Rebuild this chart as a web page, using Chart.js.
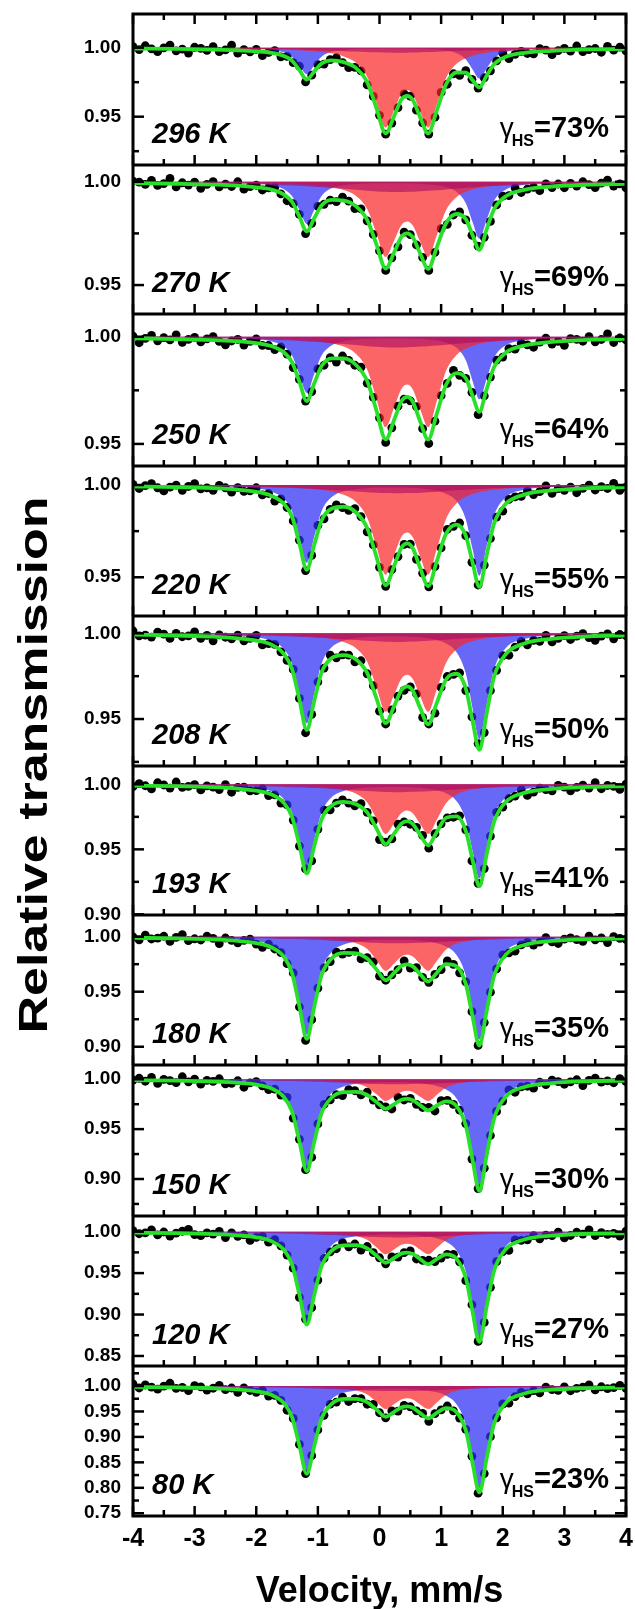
<!DOCTYPE html>
<html>
<head>
<meta charset="utf-8">
<title>Mössbauer spectra</title>
<script src="https://cdn.jsdelivr.net/npm/chart.js@4.4.1/dist/chart.umd.min.js"></script>
<style>
  html, body { margin: 0; padding: 0; background: #fff; }
  canvas { display: block; }
</style>
</head>
<body>
<canvas id="spectra" width="635" height="1609"></canvas>
<script>
// ten spectra, top panel first
const temps = ['296 K', '270 K', '250 K', '220 K', '208 K', '193 K', '180 K', '150 K', '120 K', '80 K'];
const hsFraction = [73, 69, 64, 55, 50, 41, 35, 30, 27, 23];

// measured channels, mm/s
const dotVel = [-4.0, -3.9, -3.8, -3.7, -3.6, -3.5, -3.4, -3.3, -3.2, -3.1, -3.0, -2.9, -2.8, -2.7, -2.6, -2.5, -2.4, -2.3, -2.2, -2.1,
  -2.0, -1.9, -1.8, -1.7, -1.6, -1.5, -1.4, -1.3, -1.2, -1.1, -1.0, -0.9, -0.8, -0.7, -0.6, -0.5, -0.4, -0.3, -0.2, -0.1,
  0.0, 0.1, 0.2, 0.3, 0.4, 0.5, 0.6, 0.7, 0.8, 0.9, 1.0, 1.1, 1.2, 1.3, 1.4, 1.5, 1.6, 1.7, 1.8, 1.9,
  2.0, 2.1, 2.2, 2.3, 2.4, 2.5, 2.6, 2.7, 2.8, 2.9, 3.0, 3.1, 3.2, 3.3, 3.4, 3.5, 3.6, 3.7, 3.8, 3.9, 4.0];

// measured relative transmission per panel
const dots = [
  [1.0007, 0.9986, 1.0014, 0.9992, 0.9971, 0.9998, 1.0019, 0.9977, 0.9990, 0.9961, 1.0003, 0.9995, 0.9980, 1.0007, 0.9971, 0.9984, 1.0018, 0.9960, 0.9986, 0.9970,
   0.9988, 0.9942, 0.9965, 0.9979, 0.9934, 0.9937, 0.9891, 0.9866, 0.9752, 0.9801, 0.9877, 0.9881, 0.9913, 0.9927, 0.9892, 0.9855, 0.9858, 0.9832, 0.9730, 0.9647,
   0.9510, 0.9373, 0.9454, 0.9565, 0.9666, 0.9648, 0.9547, 0.9455, 0.9374, 0.9496, 0.9676, 0.9735, 0.9811, 0.9799, 0.9833, 0.9771, 0.9707, 0.9782, 0.9832, 0.9904,
   0.9960, 0.9920, 0.9952, 0.9973, 0.9958, 0.9955, 0.9993, 0.9982, 0.9949, 0.9979, 0.9995, 0.9975, 1.0012, 0.9971, 0.9986, 0.9994, 0.9967, 1.0009, 0.9982, 1.0004, 0.9976],
  [1.0003, 0.9998, 0.9987, 1.0007, 0.9982, 0.9991, 1.0016, 0.9975, 0.9995, 0.9984, 0.9998, 0.9968, 0.9987, 1.0001, 0.9975, 0.9988, 0.9977, 1.0000, 0.9964, 0.9976,
   0.9983, 0.9960, 0.9970, 0.9972, 0.9941, 0.9908, 0.9894, 0.9842, 0.9749, 0.9799, 0.9881, 0.9891, 0.9911, 0.9904, 0.9926, 0.9906, 0.9870, 0.9869, 0.9811, 0.9745,
   0.9665, 0.9571, 0.9632, 0.9685, 0.9756, 0.9744, 0.9694, 0.9634, 0.9571, 0.9658, 0.9773, 0.9794, 0.9839, 0.9854, 0.9815, 0.9741, 0.9688, 0.9731, 0.9808, 0.9888,
   0.9930, 0.9933, 0.9970, 0.9948, 0.9964, 0.9973, 0.9957, 0.9990, 0.9972, 0.9989, 0.9971, 0.9992, 0.9979, 1.0000, 0.9986, 0.9972, 0.9993, 1.0008, 0.9979, 0.9990, 0.9970],
  [1.0003, 0.9972, 0.9992, 1.0006, 0.9981, 0.9996, 0.9985, 1.0009, 0.9974, 0.9988, 0.9997, 0.9976, 0.9990, 1.0000, 0.9978, 0.9962, 0.9980, 0.9988, 0.9961, 0.9978,
   0.9990, 0.9960, 0.9959, 0.9940, 0.9952, 0.9919, 0.9856, 0.9801, 0.9700, 0.9744, 0.9850, 0.9867, 0.9902, 0.9882, 0.9910, 0.9890, 0.9867, 0.9858, 0.9783, 0.9717,
   0.9621, 0.9507, 0.9575, 0.9676, 0.9709, 0.9701, 0.9674, 0.9571, 0.9502, 0.9606, 0.9725, 0.9782, 0.9843, 0.9820, 0.9806, 0.9740, 0.9637, 0.9724, 0.9812, 0.9891,
   0.9905, 0.9944, 0.9942, 0.9970, 0.9962, 0.9951, 0.9975, 0.9993, 0.9966, 0.9978, 0.9960, 0.9991, 0.9988, 0.9979, 1.0000, 0.9976, 0.9987, 1.0013, 0.9973, 0.9994, 0.9985],
  [1.0003, 0.9981, 0.9997, 1.0007, 0.9985, 0.9968, 0.9989, 0.9999, 0.9971, 0.9992, 1.0008, 0.9979, 0.9984, 0.9971, 0.9998, 0.9985, 0.9961, 0.9986, 0.9966, 0.9968,
   0.9985, 0.9946, 0.9954, 0.9913, 0.9925, 0.9878, 0.9805, 0.9701, 0.9536, 0.9618, 0.9781, 0.9816, 0.9868, 0.9892, 0.9877, 0.9863, 0.9872, 0.9829, 0.9746, 0.9675,
   0.9553, 0.9451, 0.9541, 0.9612, 0.9678, 0.9680, 0.9597, 0.9522, 0.9448, 0.9558, 0.9659, 0.9759, 0.9776, 0.9794, 0.9725, 0.9581, 0.9458, 0.9566, 0.9710, 0.9826,
   0.9858, 0.9922, 0.9936, 0.9938, 0.9968, 0.9948, 0.9964, 0.9995, 0.9955, 0.9980, 0.9971, 0.9989, 0.9958, 0.9982, 0.9999, 0.9973, 0.9991, 0.9981, 1.0009, 0.9971, 0.9989],
  [1.0015, 0.9985, 0.9990, 0.9978, 1.0007, 0.9995, 0.9970, 0.9999, 0.9980, 0.9985, 1.0008, 0.9971, 0.9988, 0.9956, 0.9991, 0.9977, 0.9968, 0.9989, 0.9956, 0.9970,
   0.9988, 0.9932, 0.9940, 0.9936, 0.9892, 0.9842, 0.9789, 0.9620, 0.9420, 0.9527, 0.9716, 0.9797, 0.9873, 0.9857, 0.9874, 0.9873, 0.9834, 0.9840, 0.9764, 0.9694,
   0.9546, 0.9471, 0.9553, 0.9634, 0.9667, 0.9687, 0.9647, 0.9509, 0.9471, 0.9534, 0.9684, 0.9748, 0.9761, 0.9769, 0.9666, 0.9512, 0.9357, 0.9421, 0.9666, 0.9784,
   0.9870, 0.9872, 0.9919, 0.9953, 0.9933, 0.9959, 0.9953, 0.9988, 0.9950, 0.9971, 0.9986, 0.9964, 0.9984, 0.9998, 0.9975, 0.9959, 0.9984, 0.9997, 0.9968, 0.9993, 0.9987],
  [0.9982, 1.0006, 0.9989, 0.9965, 1.0012, 0.9995, 0.9971, 1.0018, 0.9977, 0.9984, 0.9998, 0.9957, 0.9988, 0.9978, 0.9960, 0.9998, 0.9939, 0.9976, 0.9979, 0.9950,
   0.9952, 0.9966, 0.9914, 0.9919, 0.9856, 0.9842, 0.9725, 0.9525, 0.9349, 0.9412, 0.9654, 0.9802, 0.9804, 0.9855, 0.9881, 0.9855, 0.9835, 0.9851, 0.9784, 0.9719,
   0.9575, 0.9555, 0.9580, 0.9694, 0.9712, 0.9693, 0.9669, 0.9607, 0.9509, 0.9620, 0.9696, 0.9742, 0.9747, 0.9758, 0.9650, 0.9411, 0.9239, 0.9352, 0.9602, 0.9785,
   0.9824, 0.9891, 0.9910, 0.9959, 0.9915, 0.9940, 0.9971, 0.9960, 0.9949, 0.9992, 0.9979, 0.9950, 0.9976, 0.9994, 0.9971, 1.0013, 0.9966, 0.9991, 0.9984, 0.9961, 1.0002],
  [0.9999, 0.9971, 1.0015, 0.9979, 0.9987, 1.0004, 0.9958, 0.9993, 1.0019, 0.9964, 0.9981, 0.9970, 1.0004, 0.9984, 0.9937, 0.9988, 0.9967, 0.9944, 0.9966, 0.9978,
   0.9933, 0.9903, 0.9931, 0.9888, 0.9855, 0.9755, 0.9670, 0.9361, 0.9057, 0.9246, 0.9532, 0.9716, 0.9773, 0.9859, 0.9842, 0.9857, 0.9869, 0.9798, 0.9810, 0.9770,
   0.9641, 0.9604, 0.9653, 0.9701, 0.9781, 0.9715, 0.9719, 0.9630, 0.9585, 0.9657, 0.9700, 0.9780, 0.9749, 0.9672, 0.9590, 0.9318, 0.9012, 0.9220, 0.9496, 0.9707,
   0.9834, 0.9853, 0.9868, 0.9925, 0.9949, 0.9924, 0.9950, 0.9992, 0.9952, 0.9938, 0.9978, 0.9990, 0.9974, 0.9958, 1.0005, 0.9971, 0.9990, 0.9946, 1.0001, 0.9984, 0.9976],
  [0.9991, 1.0010, 0.9980, 1.0019, 0.9958, 0.9998, 0.9987, 0.9966, 1.0025, 0.9974, 1.0002, 0.9951, 0.9989, 0.9978, 1.0005, 0.9953, 0.9959, 0.9985, 0.9920, 0.9964,
   0.9976, 0.9934, 0.9897, 0.9902, 0.9841, 0.9819, 0.9611, 0.9398, 0.9093, 0.9218, 0.9552, 0.9747, 0.9793, 0.9846, 0.9837, 0.9895, 0.9885, 0.9844, 0.9872, 0.9791,
   0.9743, 0.9724, 0.9702, 0.9818, 0.9792, 0.9808, 0.9749, 0.9717, 0.9718, 0.9682, 0.9785, 0.9789, 0.9748, 0.9690, 0.9556, 0.9200, 0.8904, 0.9109, 0.9436, 0.9678,
   0.9781, 0.9893, 0.9870, 0.9924, 0.9930, 0.9911, 0.9970, 0.9947, 0.9992, 0.9976, 0.9950, 0.9973, 0.9995, 0.9937, 0.9989, 1.0011, 0.9972, 0.9983, 0.9965, 1.0006, 0.9976],
  [1.0012, 0.9975, 0.9986, 1.0022, 0.9961, 0.9996, 0.9947, 0.9982, 1.0005, 1.0027, 0.9965, 0.9952, 0.9986, 0.9971, 1.0004, 0.9929, 0.9985, 0.9944, 0.9962, 0.9894,
   0.9932, 0.9942, 0.9873, 0.9903, 0.9829, 0.9717, 0.9560, 0.9206, 0.8943, 0.9083, 0.9416, 0.9676, 0.9755, 0.9794, 0.9868, 0.9817, 0.9851, 0.9778, 0.9821, 0.9746,
   0.9685, 0.9612, 0.9695, 0.9693, 0.9746, 0.9767, 0.9670, 0.9654, 0.9655, 0.9639, 0.9681, 0.9726, 0.9727, 0.9636, 0.9408, 0.9118, 0.8675, 0.8905, 0.9328, 0.9638,
   0.9760, 0.9774, 0.9902, 0.9894, 0.9902, 0.9952, 0.9914, 0.9958, 0.9953, 0.9994, 0.9926, 0.9954, 0.9993, 0.9971, 1.0022, 0.9952, 0.9989, 0.9967, 0.9980, 0.9946, 1.0007],
  [1.0042, 0.9961, 1.0020, 0.9979, 0.9937, 0.9996, 1.0054, 0.9953, 0.9971, 0.9908, 1.0006, 0.9983, 0.9920, 0.9956, 1.0012, 0.9927, 0.9961, 0.9873, 0.9964, 0.9912,
   0.9876, 0.9914, 0.9803, 0.9816, 0.9719, 0.9524, 0.9364, 0.8853, 0.8279, 0.8630, 0.9138, 0.9425, 0.9644, 0.9684, 0.9782, 0.9696, 0.9752, 0.9750, 0.9642, 0.9638,
   0.9475, 0.9375, 0.9512, 0.9508, 0.9618, 0.9592, 0.9510, 0.9464, 0.9306, 0.9459, 0.9531, 0.9607, 0.9513, 0.9371, 0.9148, 0.8619, 0.7895, 0.8280, 0.9004, 0.9375,
   0.9646, 0.9662, 0.9791, 0.9876, 0.9846, 0.9908, 0.9864, 0.9977, 0.9927, 0.9915, 0.9982, 0.9907, 0.9952, 0.9976, 1.0020, 0.9923, 0.9985, 0.9948, 0.9970, 1.0012, 0.9954]
];

// velocity points of the fitted sub-spectra, mm/s
const fitVel = [-4.0, -3.3, -2.7, -2.3, -2.0, -1.75, -1.55, -1.42, -1.3, -1.18, -1.06, -0.94, -0.78, -0.58, -0.38, -0.2, -0.05,
  0.1, 0.24, 0.36, 0.45, 0.54, 0.66, 0.79, 0.93, 1.08, 1.25, 1.4, 1.51, 1.62, 1.74, 1.86, 2.05, 2.35, 2.8, 3.4, 4.0];

// absorption (%) of the high-spin doublet
const hsAbs = [
  [0.01, 0.01, 0.03, 0.05, 0.08, 0.16, 0.34, 0.65, 1.29, 1.93, 1.29, 0.65, 0.30, 0.16, 0.10, 0.08, 0.07, 0.06, 0.06, 0.06, 0.07, 0.07, 0.08, 0.10, 0.14, 0.21, 0.40, 0.84, 1.58, 2.24, 1.50, 0.75, 0.31, 0.12, 0.05, 0.02, 0.01],
  [0.01, 0.02, 0.03, 0.05, 0.09, 0.17, 0.36, 0.69, 1.36, 2.04, 1.37, 0.69, 0.32, 0.17, 0.11, 0.08, 0.07, 0.07, 0.07, 0.07, 0.08, 0.09, 0.10, 0.13, 0.17, 0.26, 0.49, 1.04, 1.95, 2.76, 1.84, 0.92, 0.38, 0.15, 0.06, 0.03, 0.02],
  [0.01, 0.02, 0.04, 0.06, 0.11, 0.22, 0.46, 0.88, 1.75, 2.62, 1.75, 0.88, 0.41, 0.21, 0.13, 0.10, 0.09, 0.08, 0.08, 0.08, 0.09, 0.10, 0.11, 0.14, 0.18, 0.28, 0.52, 1.10, 2.06, 2.92, 1.95, 0.98, 0.40, 0.16, 0.06, 0.03, 0.02],
  [0.02, 0.03, 0.06, 0.10, 0.18, 0.36, 0.75, 1.42, 2.82, 4.22, 2.82, 1.42, 0.67, 0.34, 0.22, 0.17, 0.14, 0.13, 0.13, 0.14, 0.15, 0.16, 0.18, 0.23, 0.31, 0.47, 0.87, 1.85, 3.47, 4.92, 3.28, 1.65, 0.67, 0.26, 0.11, 0.05, 0.03],
  [0.02, 0.04, 0.07, 0.13, 0.23, 0.44, 0.93, 1.77, 3.51, 5.25, 3.52, 1.77, 0.83, 0.43, 0.27, 0.21, 0.18, 0.17, 0.17, 0.17, 0.18, 0.20, 0.23, 0.29, 0.39, 0.59, 1.10, 2.33, 4.37, 6.19, 4.14, 2.08, 0.85, 0.33, 0.13, 0.06, 0.04],
  [0.03, 0.05, 0.09, 0.16, 0.28, 0.54, 1.14, 2.17, 4.31, 6.45, 4.31, 2.18, 1.02, 0.52, 0.33, 0.25, 0.22, 0.20, 0.20, 0.21, 0.22, 0.24, 0.27, 0.34, 0.45, 0.69, 1.29, 2.73, 5.12, 7.25, 4.85, 2.43, 0.99, 0.39, 0.16, 0.07, 0.04],
  [0.04, 0.07, 0.12, 0.22, 0.39, 0.75, 1.57, 3.00, 5.96, 8.91, 5.96, 3.01, 1.41, 0.72, 0.45, 0.34, 0.29, 0.27, 0.27, 0.27, 0.29, 0.31, 0.36, 0.44, 0.59, 0.89, 1.67, 3.53, 6.61, 9.36, 6.26, 3.14, 1.29, 0.50, 0.21, 0.10, 0.06],
  [0.04, 0.07, 0.13, 0.22, 0.39, 0.75, 1.58, 2.99, 5.95, 8.90, 5.96, 3.01, 1.41, 0.72, 0.46, 0.35, 0.31, 0.29, 0.29, 0.30, 0.32, 0.35, 0.40, 0.50, 0.67, 1.02, 1.92, 4.06, 7.61, 10.78, 7.21, 3.62, 1.48, 0.57, 0.23, 0.11, 0.06],
  [0.05, 0.08, 0.15, 0.27, 0.47, 0.91, 1.91, 3.63, 7.22, 10.80, 7.23, 3.65, 1.71, 0.87, 0.56, 0.42, 0.37, 0.34, 0.34, 0.36, 0.38, 0.41, 0.48, 0.59, 0.80, 1.21, 2.27, 4.79, 9.00, 12.74, 8.51, 4.28, 1.75, 0.68, 0.28, 0.13, 0.08],
  [0.08, 0.13, 0.24, 0.41, 0.73, 1.40, 2.95, 5.60, 11.13, 16.64, 11.14, 5.62, 2.64, 1.35, 0.86, 0.66, 0.57, 0.53, 0.53, 0.56, 0.59, 0.64, 0.75, 0.93, 1.25, 1.90, 3.57, 7.54, 14.16, 20.05, 13.40, 6.73, 2.75, 1.07, 0.44, 0.20, 0.12]
];

// absorption (%) of the low-spin doublet
const lsAbs = [
  [0.03, 0.04, 0.05, 0.07, 0.09, 0.11, 0.14, 0.16, 0.19, 0.22, 0.26, 0.31, 0.41, 0.64, 1.10, 2.10, 3.96, 5.79, 4.50, 3.31, 3.07, 3.37, 4.64, 5.79, 4.12, 2.19, 1.17, 0.76, 0.58, 0.46, 0.36, 0.30, 0.22, 0.15, 0.10, 0.06, 0.04],
  [0.02, 0.02, 0.03, 0.04, 0.06, 0.07, 0.09, 0.10, 0.12, 0.14, 0.16, 0.20, 0.26, 0.40, 0.69, 1.32, 2.49, 3.64, 2.83, 2.08, 1.93, 2.12, 2.91, 3.64, 2.59, 1.38, 0.74, 0.48, 0.36, 0.29, 0.23, 0.19, 0.14, 0.10, 0.06, 0.04, 0.03],
  [0.02, 0.03, 0.04, 0.05, 0.07, 0.08, 0.10, 0.12, 0.14, 0.16, 0.19, 0.23, 0.30, 0.46, 0.80, 1.53, 2.88, 4.22, 3.28, 2.41, 2.23, 2.46, 3.38, 4.22, 3.00, 1.59, 0.85, 0.55, 0.42, 0.33, 0.26, 0.22, 0.16, 0.11, 0.07, 0.04, 0.03],
  [0.02, 0.03, 0.04, 0.06, 0.08, 0.10, 0.12, 0.13, 0.16, 0.18, 0.22, 0.26, 0.35, 0.53, 0.92, 1.77, 3.32, 4.86, 3.78, 2.78, 2.57, 2.83, 3.89, 4.86, 3.46, 1.84, 0.99, 0.64, 0.49, 0.38, 0.31, 0.25, 0.19, 0.13, 0.08, 0.05, 0.04],
  [0.02, 0.03, 0.04, 0.06, 0.07, 0.09, 0.11, 0.13, 0.15, 0.17, 0.20, 0.25, 0.33, 0.50, 0.87, 1.66, 3.13, 4.58, 3.56, 2.62, 2.42, 2.67, 3.67, 4.58, 3.26, 1.73, 0.93, 0.60, 0.46, 0.36, 0.29, 0.23, 0.18, 0.12, 0.08, 0.05, 0.03],
  [0.02, 0.02, 0.04, 0.05, 0.06, 0.07, 0.09, 0.11, 0.12, 0.14, 0.17, 0.21, 0.27, 0.42, 0.73, 1.39, 2.61, 3.82, 2.97, 2.19, 2.02, 2.23, 3.06, 3.82, 2.72, 1.45, 0.78, 0.50, 0.38, 0.30, 0.24, 0.20, 0.15, 0.10, 0.06, 0.04, 0.03],
  [0.01, 0.02, 0.03, 0.04, 0.05, 0.06, 0.07, 0.09, 0.10, 0.12, 0.14, 0.17, 0.22, 0.34, 0.59, 1.13, 2.12, 3.10, 2.41, 1.77, 1.64, 1.81, 2.48, 3.10, 2.21, 1.17, 0.63, 0.41, 0.31, 0.24, 0.19, 0.16, 0.12, 0.08, 0.05, 0.03, 0.02],
  [0.01, 0.01, 0.02, 0.03, 0.03, 0.04, 0.05, 0.06, 0.07, 0.08, 0.10, 0.12, 0.16, 0.24, 0.42, 0.79, 1.49, 2.18, 1.70, 1.25, 1.16, 1.27, 1.75, 2.18, 1.55, 0.83, 0.44, 0.29, 0.22, 0.17, 0.14, 0.11, 0.08, 0.06, 0.04, 0.02, 0.02],
  [0.01, 0.02, 0.03, 0.03, 0.04, 0.05, 0.07, 0.08, 0.09, 0.10, 0.12, 0.15, 0.20, 0.30, 0.52, 0.99, 1.87, 2.73, 2.12, 1.56, 1.45, 1.59, 2.19, 2.73, 1.94, 1.03, 0.55, 0.36, 0.27, 0.22, 0.17, 0.14, 0.11, 0.07, 0.05, 0.03, 0.02],
  [0.02, 0.03, 0.04, 0.06, 0.07, 0.09, 0.11, 0.13, 0.15, 0.17, 0.20, 0.24, 0.32, 0.50, 0.86, 1.65, 3.11, 4.54, 3.53, 2.60, 2.41, 2.65, 3.64, 4.54, 3.23, 1.72, 0.92, 0.59, 0.45, 0.36, 0.29, 0.23, 0.18, 0.12, 0.08, 0.05, 0.03]
];

// absorption (%) of the broad component
const broadAbs = [
  [0.03, 0.04, 0.06, 0.07, 0.09, 0.10, 0.12, 0.13, 0.14, 0.16, 0.17, 0.19, 0.21, 0.25, 0.28, 0.31, 0.34, 0.35, 0.36, 0.36, 0.36, 0.35, 0.33, 0.32, 0.29, 0.26, 0.23, 0.21, 0.19, 0.18, 0.16, 0.15, 0.13, 0.10, 0.08, 0.05, 0.04],
  [0.04, 0.06, 0.08, 0.10, 0.12, 0.14, 0.17, 0.18, 0.20, 0.22, 0.24, 0.26, 0.30, 0.34, 0.39, 0.44, 0.47, 0.49, 0.50, 0.50, 0.49, 0.48, 0.46, 0.44, 0.41, 0.37, 0.33, 0.29, 0.27, 0.25, 0.22, 0.21, 0.18, 0.14, 0.11, 0.07, 0.05],
  [0.04, 0.06, 0.08, 0.10, 0.12, 0.14, 0.17, 0.18, 0.20, 0.22, 0.24, 0.26, 0.30, 0.34, 0.39, 0.44, 0.47, 0.49, 0.50, 0.50, 0.49, 0.48, 0.46, 0.44, 0.41, 0.37, 0.33, 0.29, 0.27, 0.25, 0.22, 0.21, 0.18, 0.14, 0.11, 0.07, 0.05],
  [0.04, 0.05, 0.07, 0.09, 0.11, 0.13, 0.15, 0.16, 0.18, 0.20, 0.21, 0.24, 0.27, 0.31, 0.35, 0.39, 0.42, 0.44, 0.45, 0.45, 0.44, 0.44, 0.42, 0.39, 0.36, 0.33, 0.29, 0.26, 0.24, 0.22, 0.20, 0.18, 0.16, 0.13, 0.10, 0.07, 0.05],
  [0.04, 0.06, 0.08, 0.10, 0.12, 0.14, 0.17, 0.18, 0.20, 0.22, 0.24, 0.26, 0.30, 0.34, 0.39, 0.44, 0.47, 0.49, 0.50, 0.50, 0.49, 0.48, 0.46, 0.44, 0.41, 0.37, 0.33, 0.29, 0.27, 0.25, 0.22, 0.21, 0.18, 0.14, 0.11, 0.07, 0.05],
  [0.05, 0.07, 0.09, 0.12, 0.15, 0.17, 0.20, 0.22, 0.24, 0.26, 0.29, 0.31, 0.36, 0.41, 0.47, 0.52, 0.56, 0.59, 0.60, 0.60, 0.59, 0.58, 0.56, 0.53, 0.49, 0.44, 0.39, 0.35, 0.32, 0.30, 0.27, 0.25, 0.21, 0.17, 0.13, 0.09, 0.07],
  [0.05, 0.07, 0.09, 0.12, 0.15, 0.17, 0.20, 0.22, 0.24, 0.26, 0.29, 0.31, 0.36, 0.41, 0.47, 0.52, 0.56, 0.59, 0.60, 0.60, 0.59, 0.58, 0.56, 0.53, 0.49, 0.44, 0.39, 0.35, 0.32, 0.30, 0.27, 0.25, 0.21, 0.17, 0.13, 0.09, 0.07],
  [0.04, 0.06, 0.08, 0.10, 0.12, 0.14, 0.17, 0.18, 0.20, 0.22, 0.24, 0.26, 0.30, 0.34, 0.39, 0.44, 0.47, 0.49, 0.50, 0.50, 0.49, 0.48, 0.46, 0.44, 0.41, 0.37, 0.33, 0.29, 0.27, 0.25, 0.22, 0.21, 0.18, 0.14, 0.11, 0.07, 0.05],
  [0.06, 0.08, 0.11, 0.14, 0.17, 0.20, 0.23, 0.25, 0.28, 0.30, 0.33, 0.37, 0.41, 0.48, 0.55, 0.61, 0.65, 0.68, 0.70, 0.70, 0.69, 0.68, 0.65, 0.61, 0.57, 0.51, 0.46, 0.41, 0.38, 0.34, 0.31, 0.29, 0.25, 0.20, 0.15, 0.10, 0.08],
  [0.08, 0.12, 0.16, 0.20, 0.24, 0.29, 0.33, 0.36, 0.40, 0.44, 0.48, 0.52, 0.59, 0.69, 0.79, 0.87, 0.93, 0.98, 1.00, 1.00, 0.99, 0.97, 0.93, 0.88, 0.81, 0.74, 0.65, 0.58, 0.54, 0.49, 0.45, 0.41, 0.36, 0.29, 0.21, 0.15, 0.11]
];

// labelled transmission ticks and visible range of each panel
const yTicks = [
  [1.00, 0.95], [1.00, 0.95], [1.00, 0.95], [1.00, 0.95], [1.00, 0.95],
  [1.00, 0.95, 0.90], [1.00, 0.95, 0.90], [1.00, 0.95, 0.90], [1.00, 0.95, 0.90, 0.85],
  [1.00, 0.95, 0.90, 0.85, 0.80, 0.75]
];
const yMin = [0.915, 0.936, 0.9397, 0.929, 0.9226, 0.8995, 0.8834, 0.8629, 0.8379, 0.7446];
const yMax = [1.0244, 1.0081, 1.0106, 1.0103, 1.0101, 1.0141, 1.0197, 1.0143, 1.0189, 1.0393];
const velTicks = [-4, -3, -2, -1, 0, 1, 2, 3, 4];

// layout
const panelH = [151, 149, 152, 150, 150, 149, 150, 151, 150, 150];
const FONT = "'Liberation Sans', Arial, Helvetica, sans-serif";
const GREEN = '#27e027';
const HS_FILL = 'rgba(45, 45, 245, 0.72)';
const LS_FILL = 'rgba(250, 35, 35, 0.70)';
const BROAD_FILL = 'rgba(168, 10, 100, 0.60)';

Chart.defaults.font.family = FONT;

const toT = a => 1 - a / 100;

const datasets = [];
temps.forEach((t, i) => {
  const yAxisID = 'y' + i;
  const curve = arr => fitVel.map((v, k) => ({ x: v, y: toT(arr[k]) }));
  const area = (arr, color, order) => ({
    data: curve(arr), yAxisID, order,
    fill: { value: 1 }, backgroundColor: color,
    borderColor: 'transparent', borderWidth: 0, pointRadius: 0,
    cubicInterpolationMode: 'monotone'
  });
  // the fit is the sum of the three sub-spectra
  const total = fitVel.map((v, k) => ({ x: v, y: toT(hsAbs[i][k] + lsAbs[i][k] + broadAbs[i][k]) }));
  datasets.push({
    data: total, yAxisID, order: 0,
    borderColor: GREEN, borderWidth: 3.8, pointRadius: 0, fill: false,
    cubicInterpolationMode: 'monotone'
  });
  datasets.push(area(broadAbs[i], BROAD_FILL, 1));
  datasets.push(area(lsAbs[i], LS_FILL, 2));
  datasets.push(area(hsAbs[i], HS_FILL, 3));
  // measured points sit under the shaded areas
  datasets.push({
    data: dotVel.map((v, k) => ({ x: v, y: dots[i][k] })), yAxisID, order: 4,
    showLine: false, pointRadius: 4.4, pointBorderWidth: 0,
    pointBackgroundColor: '#000', borderColor: '#000', fill: false
  });
});

const scales = {
  x: {
    type: 'linear', position: 'bottom', min: -4, max: 4,
    grid: { display: false, drawTicks: false }, border: { display: false },
    ticks: { display: false },
    afterFit: s => { s.height = 93; s.paddingLeft = 0; s.paddingRight = 0; }
  }
};
// stacked axes are placed from the last one added at the top, so add the bottom panel first
for (let i = temps.length - 1; i >= 0; i--) {
  scales['y' + i] = {
    type: 'linear', position: 'left', stack: 'spectra', stackWeight: panelH[i],
    min: yMin[i], max: yMax[i],
    grid: { display: false, drawTicks: false }, border: { display: false },
    ticks: {
      color: '#000', padding: 12, autoSkip: false,
      font: { size: 19, weight: 'bold' },
      callback: v => v.toFixed(2)
    },
    afterBuildTicks: s => { s.ticks = yTicks[i].map(v => ({ value: v })); },
    // labels may overhang the panel edges, the frame stays where it is
    afterFit: s => { s.width = 133; s.paddingTop = 0; s.paddingBottom = 0; }
  };
}

function seg(ctx, x1, y1, x2, y2) {
  ctx.beginPath();
  ctx.moveTo(x1, y1);
  ctx.lineTo(x2, y2);
  ctx.stroke();
}

const decor = {
  id: 'decor',
  afterDraw(chart) {
    const { ctx, chartArea: a } = chart;
    const xs = chart.scales.x;
    ctx.save();
    ctx.strokeStyle = '#000';
    ctx.fillStyle = '#000';

    temps.forEach((t, i) => {
      const ys = chart.scales['y' + i];
      // inward ticks, left and right
      ctx.lineWidth = 2.5;
      const k0 = Math.ceil(ys.min / 0.025 - 1e-6);
      for (let k = k0; k * 0.025 <= ys.max + 1e-9; k++) {
        const y = ys.getPixelForValue(k * 0.025);
        const len = k % 2 === 0 ? 11 : 6;
        seg(ctx, a.left, y, a.left + len, y);
        seg(ctx, a.right, y, a.right - len, y);
      }
      // velocity ticks along the bottom of each panel, and the top of the first
      for (let k = -8; k <= 8; k++) {
        const x = xs.getPixelForValue(k / 2);
        const len = k % 2 === 0 ? 10 : 6;
        seg(ctx, x, ys.bottom, x, ys.bottom - len);
        if (i === 0) seg(ctx, x, ys.top, x, ys.top + len);
      }

      // temperature
      ctx.textAlign = 'left';
      ctx.textBaseline = 'alphabetic';
      ctx.font = `italic bold 29px ${FONT}`;
      ctx.fillText(t, a.left + 19, ys.bottom - 22.5);

      // high-spin fraction, right aligned
      const main = '=' + hsFraction[i] + '%';
      ctx.font = `bold 29px ${FONT}`;
      const wMain = ctx.measureText(main).width;
      ctx.font = `bold 16px ${FONT}`;
      const wSub = ctx.measureText('HS').width;
      ctx.font = `28px ${FONT}`;
      const wG = ctx.measureText('γ').width;
      const xEnd = a.right - 17;
      const xMain = xEnd - wMain;
      const xSub = xMain - wSub;
      const base = ys.bottom - 28;
      ctx.fillText('γ', xSub - wG + 2, base);
      ctx.font = `bold 16px ${FONT}`;
      ctx.fillText('HS', xSub, base + 9);
      ctx.font = `bold 29px ${FONT}`;
      ctx.fillText(main, xMain, base);
    });

    // frame and panel separators
    ctx.lineWidth = 3;
    ctx.strokeRect(a.left, a.top, a.right - a.left, a.bottom - a.top);
    for (let i = 1; i < temps.length; i++) {
      const y = chart.scales['y' + i].top;
      seg(ctx, a.left, y, a.right, y);
    }

    // velocity labels and axis titles
    ctx.font = `bold 25px ${FONT}`;
    ctx.textAlign = 'center';
    ctx.textBaseline = 'alphabetic';
    velTicks.forEach(v => ctx.fillText(String(v), xs.getPixelForValue(v), a.bottom + 30));
    ctx.font = `bold 36px ${FONT}`;
    ctx.fillText('Velocity, mm/s', (a.left + a.right) / 2, a.bottom + 86);

    ctx.save();
    ctx.translate(47, (a.top + a.bottom) / 2);
    ctx.rotate(-Math.PI / 2);
    ctx.font = `bold 40px ${FONT}`;
    const label = 'Relative transmission';
    const w = ctx.measureText(label).width;
    ctx.scale(537 / w, 1);
    ctx.fillText(label, 0, 0);
    ctx.restore();

    ctx.restore();
  }
};

new Chart(document.getElementById('spectra'), {
  type: 'line',
  data: { datasets },
  options: {
    responsive: false,
    animation: false,
    devicePixelRatio: 1,
    events: [],
    layout: { padding: { top: 14, right: 9, bottom: 0, left: 0 } },
    plugins: { legend: { display: false }, tooltip: { enabled: false } },
    scales
  },
  plugins: [decor]
});
</script>
</body>
</html>
